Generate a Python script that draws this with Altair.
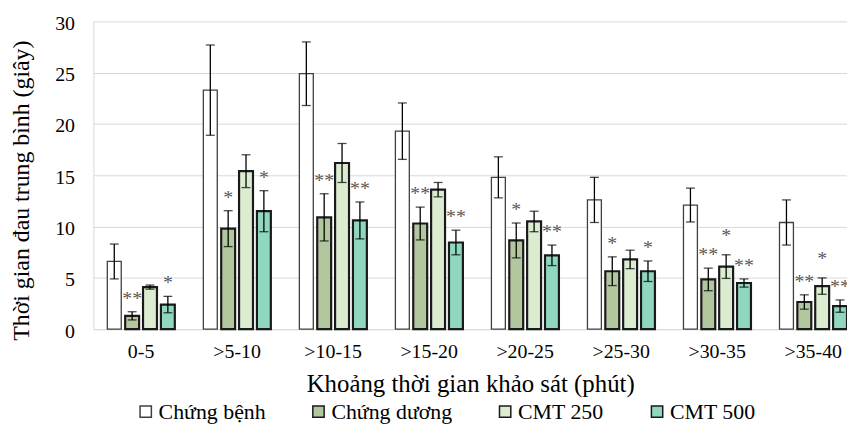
import altair as alt
import pandas as pd

categories = ["0-5", ">5-10", ">10-15", ">15-20", ">20-25", ">25-30", ">30-35", ">35-40"]
series = ["Chứng bệnh", "Chứng dương", "CMT 250", "CMT 500"]

mean_benh = [6.6, 23.3, 24.9, 19.3, 14.8, 12.6, 12.1, 10.4]
sd_benh = [1.7, 4.4, 3.1, 2.75, 2.0, 2.2, 1.65, 2.2]
mean_duong = [1.3, 9.8, 10.9, 10.3, 8.65, 5.65, 4.85, 2.65]
sd_duong = [0.4, 1.75, 2.3, 1.6, 1.7, 1.4, 1.1, 0.7]
mean_250 = [4.1, 15.4, 16.2, 13.6, 10.5, 6.8, 6.1, 4.2]
sd_250 = [0.2, 1.6, 1.9, 0.7, 1.0, 0.9, 1.15, 0.8]
mean_500 = [2.4, 11.5, 10.6, 8.45, 7.2, 5.65, 4.5, 2.25]
sd_500 = [0.8, 2.0, 1.8, 1.2, 1.0, 1.0, 0.4, 0.6]

sig_benh = ["", "", "", "", "", "", "", ""]
sig_duong = ["**", "*", "**", "**", "*", "*", "**", "**"]
sig_250 = ["", "", "", "", "", "", "*", "*"]
sig_500 = ["*", "*", "**", "**", "**", "*", "**", "**"]

fills = ["#ffffff", "#b3c79f", "#dcecd0", "#8fd7bf"]
strokes = ["#404040", "#1a1a1a", "#1a1a1a", "#1a1a1a"]

rows = []
for s, m, sd, sg in zip(series,
                        [mean_benh, mean_duong, mean_250, mean_500],
                        [sd_benh, sd_duong, sd_250, sd_500],
                        [sig_benh, sig_duong, sig_250, sig_500]):
    for c, mv, sv, g in zip(categories, m, sd, sg):
        rows.append({"cat": c, "series": s, "mean": mv,
                     "lo": mv - sv, "hi": mv + sv, "sig": g})
df = pd.DataFrame(rows)

FONT = "'Liberation Serif', 'Times New Roman', 'DejaVu Serif', serif"

x_enc = alt.X("cat:N", sort=categories,
              scale=alt.Scale(paddingInner=0.297, paddingOuter=0.0725, align=1),
              axis=alt.Axis(title="Khoảng thời gian khảo sát (phút)", labelAngle=0,
                            ticks=False, domain=True, domainColor="#d9d9d9",
                            labelFont=FONT, titleFont=FONT,
                            labelFontSize=20, labelPadding=13, labelColor="#000000",
                            titleFontSize=25, titleFontWeight="normal",
                            titleColor="#000000", titleBaseline="alphabetic",
                            titleY=63))
xo_enc = alt.XOffset("series:N", sort=series,
                     scale=alt.Scale(paddingInner=0.22, paddingOuter=0))

base = alt.Chart(df).encode(x=x_enc, xOffset=xo_enc)

leg = alt.Legend(title=None, orient="none", legendX=41.7, legendY=382,
                 direction="horizontal", columns=4, columnPadding=42,
                 symbolType="square", symbolSize=130, symbolStrokeWidth=1.5,
                 labelFont=FONT, labelFontSize=22, labelOffset=2,
                 labelColor="#000000", labelLimit=0, padding=0)

bars = base.mark_bar().encode(
    y=alt.Y("mean:Q", scale=alt.Scale(domain=[0, 30]),
            axis=alt.Axis(values=[0, 5, 10, 15, 20, 25, 30], grid=True,
                          gridColor="#d9d9d9", domain=True, domainColor="#d9d9d9",
                          ticks=False, labelFont=FONT, titleFont=FONT,
                          labelFontSize=20, labelPadding=19,
                          labelOffset=2, labelColor="#000000",
                          title="Thời gian đau trung bình (giây)",
                          titleFontSize=24, titleFontWeight="normal",
                          titleColor="#000000", titleX=-65, titleY=170,
                          titleBaseline="alphabetic", titleAngle=270)),
    fill=alt.Fill("series:N", sort=series,
                  scale=alt.Scale(domain=series, range=fills), legend=leg),
    stroke=alt.Stroke("series:N", sort=series,
                      scale=alt.Scale(domain=series, range=strokes), legend=leg),
    strokeWidth=alt.condition("datum.series === 'Chứng bệnh'",
                              alt.value(1.3), alt.value(2.2)),
)

err = base.mark_rule(color="#000000", strokeWidth=1.3).encode(
    y="lo:Q", y2="hi:Q")
cap_hi = base.mark_tick(color="#000000", thickness=1.3, size=9).encode(y="hi:Q")
cap_lo = base.mark_tick(color="#000000", thickness=1.3, size=9).encode(y="lo:Q")

stars = base.mark_text(font=FONT, fontSize=20, color="#595959",
                       baseline="alphabetic", dy=-7).encode(
    y="hi:Q", text="sig:N").transform_filter("datum.series !== 'CMT 250'")
stars250 = base.mark_text(font=FONT, fontSize=20, color="#595959",
                          baseline="alphabetic", dy=-13).encode(
    y="hi:Q", text="sig:N").transform_filter("datum.series === 'CMT 250'")

chart = alt.layer(bars, err, cap_hi, cap_lo, stars, stars250).properties(
    width=759, height=310,
    padding={"left": 86, "top": 12, "right": 0, "bottom": 94},
    autosize=alt.AutoSizeParams(type="none"),
).configure(font=FONT).configure_view(stroke=None)

chart.save("out.html", embed_options={"renderer": "svg", "actions": False})
